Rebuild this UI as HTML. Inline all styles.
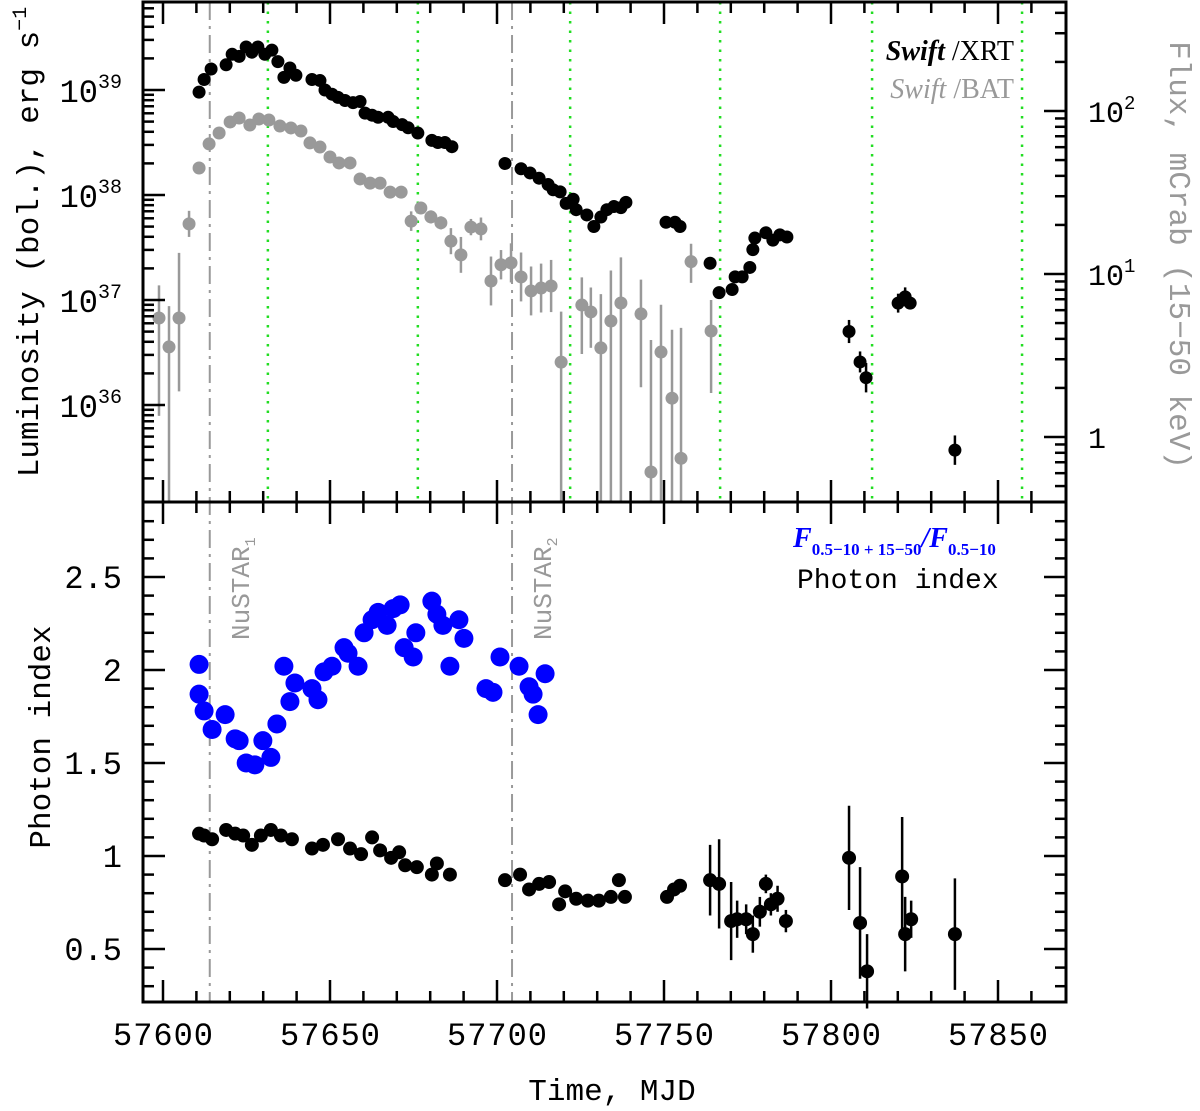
<!DOCTYPE html>
<html><head><meta charset="utf-8"><style>
html,body{margin:0;padding:0;background:#fff;}
svg{display:block;font-family:"Liberation Mono","DejaVu Sans Mono",monospace;}
</style></head><body>
<svg id="chart" width="1200" height="1111" viewBox="0 0 1200 1111" xmlns="http://www.w3.org/2000/svg">
<rect width="1200" height="1111" fill="#fff"/>
<g id="lines"></g>
<g id="marks"></g>
<g id="axes"></g>
<g id="labels">
<text transform="translate(38,242) rotate(-90)" text-anchor="middle" font-size="31" fill="#000">Luminosity (bol.), erg s<tspan font-size="20" dy="-12">−1</tspan></text>
<text transform="translate(50,737) rotate(-90)" text-anchor="middle" font-size="31" fill="#000">Photon index</text>
<text transform="translate(1170,255) rotate(90)" text-anchor="middle" font-size="31" fill="#999">Flux, mCrab (15−50 keV)</text>
<text x="612" y="1100" text-anchor="middle" font-size="31" fill="#000">Time, MJD</text>
<text x="1014" y="60" text-anchor="end" font-size="28" font-family="Liberation Serif, serif" fill="#000"><tspan font-style="italic" font-weight="bold">Swift</tspan> /XRT</text>
<text x="1014" y="98" text-anchor="end" font-size="28" font-family="Liberation Serif, serif" fill="#999"><tspan font-style="italic">Swift</tspan> /BAT</text>
<text x="793" y="547" font-size="28" font-weight="bold" fill="#0000ff" font-family="Liberation Serif, serif"><tspan font-style="italic">F</tspan><tspan font-size="17" dy="8">0.5−10 + 15−50</tspan><tspan dy="-8" font-style="italic">/F</tspan><tspan font-size="17" dy="8">0.5−10</tspan></text>
<text x="797" y="588" font-size="28" fill="#000">Photon index</text>
<text transform="translate(249,640) rotate(-90)" font-size="26" fill="#999">NuSTAR<tspan font-size="15" dy="6">1</tspan></text>
<text transform="translate(551,640) rotate(-90)" font-size="26" fill="#999">NuSTAR<tspan font-size="15" dy="6">2</tspan></text>
</g>
</svg>
<script>
// ---- data ----
const xrtMjd = [57610.8,57612.3,57614.4,57618.9,57620.7,57622.8,57624.9,57626.6,57628.4,57630.5,57632.6,57634.4,57636.2,57638.0,57639.8,57644.6,57647.0,57648.5,57650.6,57652.4,57654.5,57656.9,57659.0,57660.5,57662.6,57664.4,57667.4,57668.9,57671.6,57673.4,57676.3,57680.5,57682.3,57684.4,57686.5,57702.4,57707.2,57709.9,57712.6,57715.3,57716.8,57718.9,57720.7,57722.8,57723.7,57726.9,57729.0,57731.1,57732.9,57735.0,57737.1,57738.6,57750.6,57753.3,57754.8,57763.8,57766.5,57770.4,57771.3,57773.4,57775.7,57776.6,57777.2,57780.5,57782.6,57784.7,57786.8];
const xrtLogL = [38.98,39.10,39.20,39.24,39.34,39.32,39.41,39.36,39.41,39.34,39.38,39.27,39.12,39.21,39.14,39.10,39.09,39.00,38.96,38.93,38.90,38.88,38.89,38.78,38.76,38.74,38.74,38.70,38.67,38.64,38.59,38.52,38.50,38.50,38.46,38.30,38.25,38.21,38.16,38.10,38.05,38.03,37.92,37.96,37.86,37.81,37.70,37.79,37.86,37.89,37.88,37.93,37.74,37.74,37.70,37.35,37.07,37.10,37.22,37.22,37.31,37.48,37.59,37.64,37.57,37.62,37.60];
const xrtLateMjd = [57805.4,57808.7,57810.5,57820.1,57822.2,57823.7,57837.1];
const xrtLateLogL = [36.70,36.41,36.26,36.97,37.03,36.97,35.57];
const xrtLateErr = [0.11,0.10,0.14,0.09,0.09,0.06,0.14];

const batMjd = [57598.8,57601.8,57604.8,57607.8,57610.8,57613.8,57616.8,57620.1,57622.8,57626.0,57628.7,57631.7,57635.0,57638.3,57641.3,57644.0,57647.0,57650.0,57652.7,57656.0,57659.0,57662.0,57665.0,57668.0,57671.3,57674.3,57677.2,57680.2,57683.2,57686.2,57689.2,57692.2,57695.2,57698.2,57701.2,57704.2,57707.2,57710.2,57713.2,57716.2,57719.2,57725.4,57728.1,57731.1,57734.1,57737.1,57743.1,57746.1,57749.1,57752.4,57755.1,57758.1,57764.1];
const batFlux = [5.37,3.57,5.37,20.3,44.7,62.8,73.3,85.6,90.6,82.0,89.3,88.1,80.9,78.7,75.4,63.7,60.1,52.2,48.0,48.0,38.3,36.1,36.1,31.8,31.8,21.1,25.4,22.4,20.6,15.9,13.1,19.4,18.9,9.06,11.4,11.7,9.59,7.87,8.20,8.44,2.88,6.45,5.85,3.52,5.15,6.64,5.69,0.61,3.32,1.73,0.74,11.9,4.47];
const batErrLo = [0.60,1.20,0.45,0.08,0.02,0.02,0.02,0.02,0.02,0.02,0.02,0.02,0.02,0.02,0.02,0.02,0.02,0.02,0.02,0.02,0.02,0.02,0.02,0.02,0.02,0.06,0.03,0.04,0.04,0.08,0.11,0.05,0.07,0.15,0.09,0.12,0.15,0.15,0.15,0.16,1.50,0.30,0.22,1.50,1.50,1.50,0.45,1.50,1.50,1.50,1.50,0.13,0.38];
const batErrHi = [0.20,0.25,0.40,0.08,0.02,0.02,0.02,0.02,0.02,0.02,0.02,0.02,0.02,0.02,0.02,0.02,0.02,0.02,0.02,0.02,0.02,0.02,0.02,0.02,0.02,0.06,0.03,0.04,0.04,0.08,0.11,0.05,0.07,0.15,0.09,0.12,0.15,0.15,0.15,0.16,0.31,0.17,0.15,0.33,0.31,0.28,0.21,0.81,0.29,0.42,0.80,0.11,0.19];

const hrMjd = [57610.8,57610.8,57612.3,57614.7,57618.6,57621.6,57622.8,57624.9,57627.5,57629.9,57632.3,57634.1,57636.2,57638.0,57639.5,57644.6,57646.4,57648.2,57650.6,57654.2,57655.4,57658.4,57660.2,57662.6,57664.4,57667.1,57668.9,57671.0,57672.2,57674.9,57675.7,57680.5,57682.0,57683.8,57685.9,57688.6,57690.1,57696.7,57698.8,57700.9,57706.6,57709.6,57710.8,57712.3,57714.4];
const hrVal = [2.03,1.87,1.78,1.68,1.76,1.63,1.62,1.50,1.49,1.62,1.53,1.71,2.02,1.83,1.93,1.90,1.84,1.99,2.02,2.12,2.09,2.02,2.20,2.27,2.31,2.24,2.33,2.35,2.12,2.07,2.20,2.37,2.30,2.24,2.02,2.27,2.17,1.90,1.88,2.07,2.02,1.91,1.87,1.76,1.98];

const idxMjd = [57610.8,57612.3,57614.7,57618.9,57621.6,57624.0,57626.6,57629.3,57632.3,57635.3,57638.6,57644.6,57647.9,57652.4,57656.0,57659.3,57662.6,57665.0,57668.3,57670.7,57672.5,57676.0,57680.5,57682.0,57685.9,57702.4,57706.9,57709.6,57712.6,57715.6,57720.4,57718.6,57723.7,57727.2,57730.5,57734.1,57736.5,57738.3,57750.9,57753.0,57754.8,57763.8,57766.5,57770.1,57771.9,57774.6,57776.6,57778.7,57780.5,57782.0,57784.0,57786.5,57805.4,57808.7,57810.8,57821.3,57822.2,57824.0,57837.1];
const idxVal = [1.12,1.11,1.09,1.14,1.12,1.11,1.06,1.11,1.14,1.11,1.09,1.04,1.06,1.09,1.04,1.01,1.10,1.03,0.99,1.02,0.95,0.94,0.90,0.96,0.90,0.87,0.90,0.82,0.85,0.86,0.81,0.74,0.77,0.76,0.76,0.78,0.87,0.78,0.78,0.82,0.84,0.87,0.85,0.65,0.66,0.66,0.58,0.70,0.85,0.74,0.77,0.65,0.99,0.64,0.38,0.89,0.58,0.66,0.58];
const idxErr = [0.01,0.01,0.01,0.01,0.01,0.01,0.01,0.01,0.01,0.01,0.01,0.01,0.01,0.01,0.01,0.01,0.01,0.01,0.01,0.01,0.01,0.01,0.01,0.01,0.01,0.01,0.01,0.01,0.01,0.01,0.01,0.01,0.01,0.01,0.01,0.01,0.01,0.01,0.01,0.01,0.01,0.19,0.24,0.21,0.10,0.08,0.10,0.08,0.05,0.06,0.07,0.06,0.28,0.30,0.20,0.32,0.20,0.10,0.30];

const greenMjd = [57631.4,57676.3,57721.9,57766.8,57812.3,57857.2];
const nustarMjd = [57614.0,57704.5];
const xTickLabels = ["57600","57650","57700","57750","57800","57850"];
const lumTickExp = ["36","37","38","39"];
const fluxTickLabels = ["1","10","10"];
const idxTickLabels = ["0.5","1","1.5","2","2.5"];

// ---- geometry / axis functions ----
const L=143, R=1066, T=2, M=502, B=1002;
const X = m => 163 + (m-57600)*3.34;
const YL = lg => 90 - (lg-39)*105;
const YF = f => 437 - 163*Math.log10(f);
const YI = v => 949 - (v-0.5)*186;
const NS='http://www.w3.org/2000/svg';
function mk(tag, attrs, parent){const e=document.createElementNS(NS,tag);for(const k in attrs)e.setAttribute(k,attrs[k]);parent.appendChild(e);return e;}
const gLines=document.getElementById('lines'), gMarks=document.getElementById('marks'), gAxes=document.getElementById('axes');

// reference lines
greenMjd.forEach(m=>{const l=mk('line',{x1:X(m),x2:X(m),y1:T,y2:M,stroke:'#22dd22','stroke-width':2.5,'stroke-dasharray':'2.5,7'},gLines);

});
nustarMjd.forEach(m=>{const l=mk('line',{x1:X(m),x2:X(m),y1:T,y2:B,stroke:'#999','stroke-width':2,'stroke-dasharray':'18,6,3,6'},gLines);

});

const clipT = v => Math.max(T, Math.min(M, v));
// BAT
batMjd.forEach((m,i)=>{const lg=Math.log10(batFlux[i]);const x=X(m);
const y1=clipT(YF(Math.pow(10,lg-batErrLo[i]))), y2=clipT(YF(Math.pow(10,lg+batErrHi[i])));
const e=mk('line',{x1:x,x2:x,y1:y1,y2:y2,stroke:'#999','stroke-width':2.5},gMarks);


const y=YF(batFlux[i]); if(y<M){const c=mk('circle',{cx:x,cy:y,r:6.5,fill:'#999'},gMarks);

}});
// XRT
xrtMjd.forEach((m,i)=>{const c=mk('circle',{cx:X(m),cy:YL(xrtLogL[i]),r:6.5,fill:'#000'},gMarks);

});
xrtLateMjd.forEach((m,i)=>{const x=X(m);
const e=mk('line',{x1:x,x2:x,y1:YL(xrtLateLogL[i]-xrtLateErr[i]),y2:YL(xrtLateLogL[i]+xrtLateErr[i]),stroke:'#000','stroke-width':2.5},gMarks);


const c=mk('circle',{cx:x,cy:YL(xrtLateLogL[i]),r:6.5,fill:'#000'},gMarks);

});
// hardness
hrMjd.forEach((m,i)=>{const c=mk('circle',{cx:X(m),cy:YI(hrVal[i]),r:9.5,fill:'#0000ff'},gMarks);

});
// photon index
idxMjd.forEach((m,i)=>{const x=X(m);
const e=mk('line',{x1:x,x2:x,y1:YI(idxVal[i]-idxErr[i]),y2:YI(idxVal[i]+idxErr[i]),stroke:'#000','stroke-width':2.5},gMarks);


const c=mk('circle',{cx:x,cy:YI(idxVal[i]),r:7,fill:'#000'},gMarks);

});

// frames
[[T,M,'top-panel-frame'],[M,B,'bottom-panel-frame']].forEach(p=>{const r=mk('rect',{x:L,y:p[0],width:R-L,height:p[1]-p[0],fill:'none',stroke:'#000','stroke-width':3},gAxes);

});
const tick=(x1,y1,x2,y2)=>mk('line',{x1,y1,x2,y2,stroke:'#000','stroke-width':2.5},gAxes);
// x ticks
for(let m=57600;m<=57860;m+=10){const x=X(m);if(x>=R)break;const len=(m%50===0)?22:11;
tick(x,T,x,T+len);tick(x,M,x,M-len);tick(x,M,x,M+len);tick(x,B,x,B-len);}
xTickLabels.forEach(s=>{const t=mk('text',{x:X(+s),y:1045,'text-anchor':'middle','font-size':32,textLength:100,fill:'#000'},gAxes);t.textContent=s;

});
// left log ticks
for(let d=35;d<=39;d++)for(let k=1;k<=9;k++){const lg=d+Math.log10(k);const y=YL(lg);if(y<T||y>M)continue;tick(L,y,L+(k===1?22:11),y);}
lumTickExp.forEach(s=>{const y=YL(+s);const t=mk('text',{x:122,y:y+12,'text-anchor':'end','font-size':32,fill:'#000'},gAxes);


t.innerHTML='10<tspan font-size="20" dy="-14">'+s+'</tspan>';});
// right flux ticks
for(let d=-1;d<=2;d++)for(let k=1;k<=9;k++){const f=Math.pow(10,d)*k;const y=YF(f);if(y<T||y>M)continue;tick(R,y,R-(k===1?22:11),y);}
fluxTickLabels.forEach((s,i)=>{const y=YF(Math.pow(10,i));const t=mk('text',{x:1088,y:y+11,'font-size':30,fill:'#000'},gAxes);


t.innerHTML= i===0 ? s : s+'<tspan font-size="19" dy="-13">'+i+'</tspan>';});
// photon index ticks
for(let v=0.3;v<=2.85;v+=0.1){const y=YI(v);const maj=Math.abs(v*2-Math.round(v*2))<1e-6;const len=maj?22:11;tick(L,y,L+len,y);tick(R,y,R-len,y);}
idxTickLabels.forEach(s=>{const t=mk('text',{x:122,y:YI(+s)+11,'text-anchor':'end','font-size':32,fill:'#000'},gAxes);t.textContent=s;

});
</script>
</body></html>
